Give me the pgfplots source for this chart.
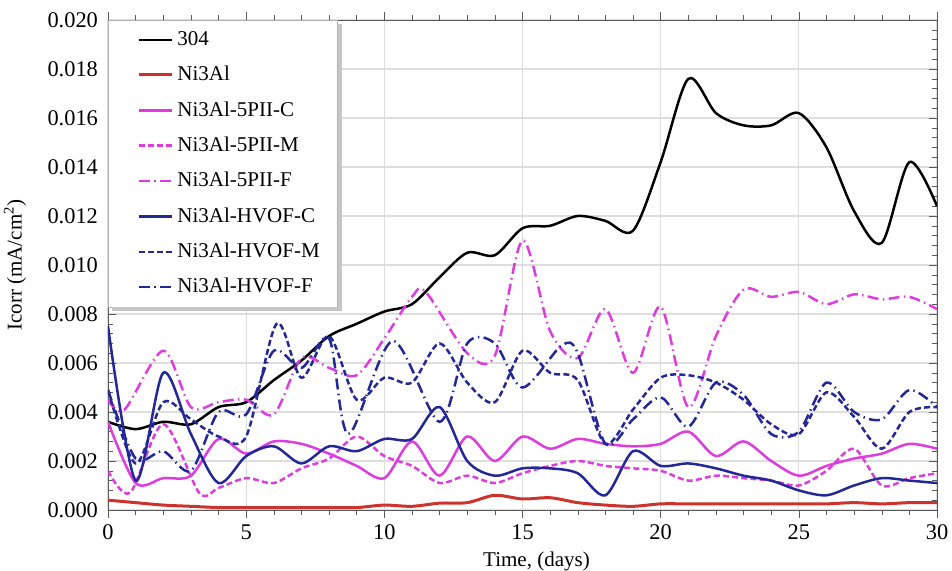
\documentclass[border=0pt]{standalone}
\usepackage{pgfplots}
\pgfplotsset{compat=1.18}
\usepackage{fontspec}
\setmainfont{Liberation Serif}
\definecolor{cRed}{RGB}{205,50,45}
\definecolor{cMag}{RGB}{222,60,222}
\definecolor{cNavy}{RGB}{35,40,150}
\definecolor{cGrid}{RGB}{222,222,222}
\begin{document}
\begin{tikzpicture}[font=\fontsize{10.5}{12.6}\selectfont]
\begin{axis}[
  scale only axis, width=414.5pt, height=245pt,
  xmin=0, xmax=30, ymin=0, ymax=0.02,
  xtick={0,5,10,15,20,25,30}, minor x tick num=4,
  ytick={0,0.002,0.004,0.006,0.008,0.010,0.012,0.014,0.016,0.018,0.020},
  minor y tick num=4,
  scaled y ticks=false,
  /pgf/number format/assume math mode=true,
  tick label style={font=\fontsize{11.2}{13}\selectfont},
  yticklabel style={xshift=-1.5pt, /pgf/number format/fixed, /pgf/number format/fixed zerofill, /pgf/number format/precision=3},
  grid=major, major grid style={cGrid, line width=0.6pt},
  axis line style={gray!70!black},
  tick style={gray!70!black},
  xtick align=outside, ytick align=inside,
  major tick length=4pt, minor tick length=2.5pt,
  xlabel={Time, (days)},
  ylabel={Icorr (mA/cm\textsuperscript{2})},
  every axis y label/.style={at={(axis description cs:0,0.5)}, xshift=-46.5pt, rotate=90, anchor=center},
  every axis x label/.style={at={(axis description cs:0.5,0)}, xshift=7pt, yshift=-25.5pt, anchor=center},
  legend cell align=left,
  legend style={name=legbox, at={(0,1)}, anchor=north west, draw=gray!60, fill=white,
    inner xsep=7pt, inner ysep=3.5pt, row sep=4.9pt},
  legend image code/.code={\path (0pt,0pt); \draw[#1] (7.5pt,0pt) -- (24pt,0pt);},
  every axis plot/.append style={line width=1.25pt, smooth},
]
% 304
\addplot[black] coordinates {
(0,0.0036)(1,0.0033)(2,0.0036)(3,0.0035)(4,0.0042)(5,0.0044)(6,0.0053)(7,0.0061)
(8,0.0071)(9,0.0076)(10,0.0081)(11,0.0084)(12,0.0095)(13,0.0105)(14,0.0104)
(15,0.0115)(16,0.0116)(17,0.0120)(18,0.0118)(19,0.0114)(20,0.0142)(21,0.0176)
(22,0.0162)(23,0.0157)(24,0.0157)(25,0.0162)(26,0.0148)(27,0.0122)(28,0.0109)
(29,0.0142)(30,0.0124)};
\addlegendentry{304}
% Ni3Al
\addplot[cRed, line width=1.5pt] coordinates {
(0,0.0004)(1,0.0003)(2,0.0002)(3,0.00015)(4,0.0001)(5,0.0001)(6,0.0001)(7,0.0001)
(8,0.0001)(9,0.0001)(10,0.0002)(11,0.00015)(12,0.00028)(13,0.0003)(14,0.0006)
(15,0.00045)(16,0.0005)(17,0.0003)(18,0.0002)(19,0.00015)(20,0.00025)(21,0.00025)
(22,0.00025)(23,0.00025)(24,0.00025)(25,0.00025)(26,0.00025)(27,0.0003)(28,0.00025)
(29,0.0003)(30,0.0003)};
\addlegendentry{Ni3Al}
% 5PII-C
\addplot[cMag] coordinates {
(0,0.0036)(1,0.0011)(2,0.0013)(3,0.0014)(4,0.0029)(5,0.0023)(6,0.0028)(7,0.0027)
(8,0.0023)(9,0.0018)(10,0.0013)(11,0.0028)(12,0.0014)(13,0.0030)(14,0.0020)
(15,0.0030)(16,0.0025)(17,0.0029)(18,0.0027)(19,0.0026)(20,0.0027)(21,0.0032)
(22,0.0022)(23,0.0028)(24,0.0020)(25,0.0014)(26,0.0018)(27,0.0021)(28,0.0023)
(29,0.0027)(30,0.0025)};
\addlegendentry{Ni3Al-5PII-C}
% 5PII-M
\addplot[cMag, dash pattern=on 3pt off 1.6pt] coordinates {
(0,0.0016)(0.8,0.0007)(2,0.0035)(3.3,0.0007)(4,0.0009)(5,0.0013)(6,0.0011)(7,0.0017)
(8,0.0021)(9,0.0030)(10,0.0022)(11,0.0018)(12,0.0011)(13,0.0014)(14,0.0011)
(15,0.0015)(16,0.0018)(17,0.0020)(18,0.0018)(19,0.0017)(20,0.0016)(21,0.0012)
(22,0.0014)(23,0.0013)(24,0.0012)(25,0.0010)(26,0.0016)(27,0.0025)(28,0.0010)
(29,0.0013)(30,0.0015)};
\addlegendentry{Ni3Al-5PII-M}
% 5PII-F
\addplot[cMag, dash pattern=on 5.5pt off 2.2pt on 0.7pt off 2.2pt] coordinates {
(0,0.0045)(0.6,0.0041)(2,0.0065)(3,0.0042)(4,0.0044)(5,0.0045)(6,0.0039)(7,0.0062)
(8,0.0058)(9,0.0055)(10,0.0070)(11,0.0087)(11.5,0.0089)(13,0.0064)(14,0.0063)
(15,0.0110)(16,0.0073)(17,0.0062)(18,0.0082)(19,0.0056)(20,0.0083)(21,0.0042)
(22,0.0071)(23,0.0090)(24,0.0087)(25,0.0089)(26,0.0084)(27,0.0088)(28,0.0086)
(29,0.0087)(30,0.0082)};
\addlegendentry{Ni3Al-5PII-F}
% HVOF-C
\addplot[cNavy] coordinates {
(0,0.0075)(1,0.0012)(2,0.0056)(3,0.0031)(4,0.0011)(5,0.0022)(6,0.0026)(7,0.0019)
(8,0.0026)(9,0.0024)(10,0.0029)(11,0.0029)(12,0.0042)(13,0.0020)(14,0.0014)
(15,0.0017)(16,0.0017)(17,0.0015)(18,0.0006)(19,0.0024)(20,0.0018)(21,0.0019)
(22,0.0017)(23,0.0014)(24,0.0012)(25,0.0008)(26,0.0006)(27,0.0010)(28,0.0013)
(29,0.0012)(30,0.0011)};
\addlegendentry{Ni3Al-HVOF-C}
% HVOF-M
\addplot[cNavy, dash pattern=on 3pt off 1.6pt] coordinates {
(0,0.0049)(1,0.0019)(2,0.0044)(3,0.0037)(4,0.0030)(5,0.0030)(6.1,0.0076)(7,0.0054)
(8,0.0071)(9,0.0045)(10,0.0054)(11,0.0052)(12,0.0068)(13,0.0052)(14,0.0044)
(15,0.0065)(16,0.0056)(17,0.0053)(18,0.0027)(19,0.0041)(20,0.0054)(21,0.0055)
(22,0.0052)(23,0.0045)(24,0.0035)(25,0.0031)(26,0.0048)(27,0.0038)(28,0.0025)
(29,0.0040)(30,0.0042)};
\addlegendentry{Ni3Al-HVOF-M}
% HVOF-F
\addplot[cNavy, dash pattern=on 5.5pt off 2.2pt on 0.7pt off 2.2pt] coordinates {
(0,0.0049)(1,0.0021)(2,0.0024)(3,0.0016)(4,0.0040)(5,0.0039)(6,0.0065)(7,0.0058)
(8,0.0070)(8.7,0.0031)(10.3,0.0069)(12,0.0036)(13,0.0068)(14,0.0068)(15,0.0050)
(16.4,0.0067)(17,0.0064)(18,0.0027)(19,0.0037)(20,0.0046)(21,0.0034)(22,0.0052)
(23,0.0047)(24,0.0031)(25,0.0032)(26,0.0052)(27,0.0040)(28,0.0037)(29,0.0049)
(30,0.0042)};
\addlegendentry{Ni3Al-HVOF-F}
\end{axis}
\fill[gray!45] ([yshift=-2pt]legbox.south east) rectangle ([xshift=2pt,yshift=-2pt]legbox.north east);
\fill[gray!45] ([xshift=2pt]legbox.south west) rectangle ([xshift=2pt,yshift=-2pt]legbox.south east);
\pgfresetboundingbox
\path[use as bounding box] ([xshift=-54pt,yshift=-30.5pt]current axis.south west) rectangle ([xshift=7.5pt,yshift=10pt]current axis.north east);
\end{tikzpicture}
\end{document}
